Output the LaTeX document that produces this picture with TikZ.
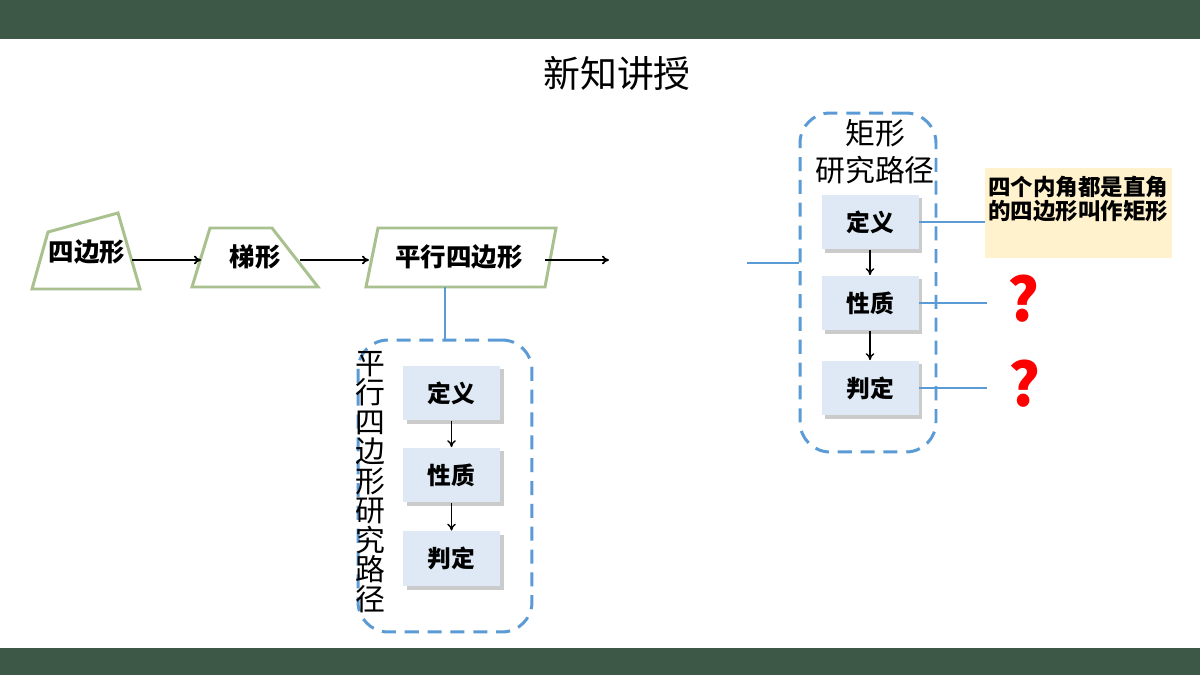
\documentclass[tikz,border=0pt]{standalone}
\usepackage{fontspec}
\setmainfont{Noto Sans CJK SC}
\usetikzlibrary{shadows,arrows.meta}
\definecolor{barc}{HTML}{3D5847}
\definecolor{sage}{HTML}{A9C18F}
\definecolor{lblue}{HTML}{5B9BD5}
\definecolor{boxfill}{HTML}{DEE9F5}
\definecolor{notec}{HTML}{FFF2CC}
\definecolor{qred}{HTML}{FF0000}
\begin{document}
\begin{tikzpicture}[x=0.02cm,y=-0.02cm,
  shapeline/.style={draw=sage,line width=1.7pt,line join=miter},
  shapetext/.style={font=\bfseries\fontsize{14.5}{16}\selectfont},
  mainarrow/.style={line width=1pt,-{To[length=4pt,width=5pt]}},
  smallarrow/.style={line width=0.8pt,-{To[length=4pt,width=5pt]}},
  bluel/.style={draw=lblue,line width=1.4pt},
  pathbox/.style={draw=lblue,line width=1.7pt,dash pattern=on 8pt off 5pt,rounded corners=0.6cm},
  stepbox/.style={fill=boxfill,minimum width=1.94cm,minimum height=1.1cm,inner sep=0pt,
    font=\bfseries\fontsize{13.5}{15}\selectfont,
    drop shadow={shadow xshift=2pt,shadow yshift=-2pt,fill=black!40,opacity=0.5}},
  qmark/.style={text=qred,font=\bfseries\fontsize{34}{36}\selectfont}
]
\useasboundingbox (0,0) rectangle (1200,675);
\fill[white] (0,0) rectangle (1200,675);
\fill[barc] (0,0) rectangle (1200,39);
\fill[barc] (0,648) rectangle (1200,675);

\node[font=\fontsize{21}{24}\selectfont] (title) at (617,73) {新知讲授};

% shapes
\draw[shapeline] (32,289) -- (48,232) -- (118,213) -- (140,289) -- cycle;
\node[shapetext] (quad) at (87,252) {四边形};
\draw[shapeline] (192,287) -- (210,228) -- (272,228) -- (318,287) -- cycle;
\node[shapetext] (trap) at (255,257) {梯形};
\draw[shapeline] (366,287) -- (378,228) -- (556,228) -- (545,287) -- cycle;
\node[shapetext] (para) at (459,257) {平行四边形};

\coordinate (a1s) at (132,260); \coordinate (a1e) at (201,260);
\coordinate (a2s) at (300,260); \coordinate (a2e) at (369,260);
\coordinate (a3s) at (545,260); \coordinate (a3e) at (609,260);
\draw[mainarrow] (a1s) -- (a1e);
\draw[mainarrow] (a2s) -- (a2e);
\draw[mainarrow] (a3s) -- (a3e);

% left research path
\node[pathbox,minimum width=3.48cm,minimum height=5.84cm] (lpath) at (445,486) {};
\coordinate (pb) at (445,287);
\draw[bluel] (pb) -- (lpath.north);
\node[font=\fontsize{17}{16.8}\selectfont,align=center,inner sep=0pt] (lvert) at (370,482)
  {平\\行\\四\\边\\形\\研\\究\\路\\径};
\node[stepbox] (ldef) at (451.5,393) {定义};
\node[stepbox] (lprop) at (451.5,475) {性质};
\node[stepbox] (ljud) at (451.5,558.5) {判定};
\draw[smallarrow] (ldef.south) -- (lprop.north);
\draw[smallarrow] (lprop.south) -- (ljud.north);

% right research path
\node[pathbox,minimum width=2.72cm,minimum height=6.78cm] (rpath) at (868,282.5) {};
\coordinate (rl) at (747,263);
\draw[bluel] (rl) -- (rl -| rpath.west);
\node[font=\fontsize{17}{20}\selectfont] (rt1) at (875,133) {矩形};
\node[font=\fontsize{17}{20}\selectfont] (rt2) at (875,170) {研究路径};
\node[fill=notec,minimum width=3.74cm,minimum height=1.8cm,inner sep=0pt,anchor=north west] (note) at (985,168) {};
\node[anchor=north west,align=left,inner sep=0pt,font=\bfseries\fontsize{12.8}{13.6}\selectfont] (notetext) at (988,176)
  {四个内角都是直角\\的四边形叫作矩形};
\node[stepbox] (rdef) at (870,222) {定义};
\node[stepbox] (rprop) at (870,303) {性质};
\node[stepbox] (rjud) at (870,388) {判定};
\draw[smallarrow] (rdef.south) -- (rprop.north);
\draw[smallarrow] (rprop.south) -- (rjud.north);
\draw[bluel] (rdef.east) -- (rdef.east -| note.west);
\coordinate (q1l) at (987,302);
\coordinate (q2l) at (987,389);
\draw[bluel] (rprop.east) -- (rprop.east -| q1l);
\draw[bluel] (rjud.east) -- (rjud.east -| q2l);
\node[qmark] (q1) at (1023,299) {?};
\node[qmark] (q2) at (1024,384) {?};
\end{tikzpicture}
\end{document}
